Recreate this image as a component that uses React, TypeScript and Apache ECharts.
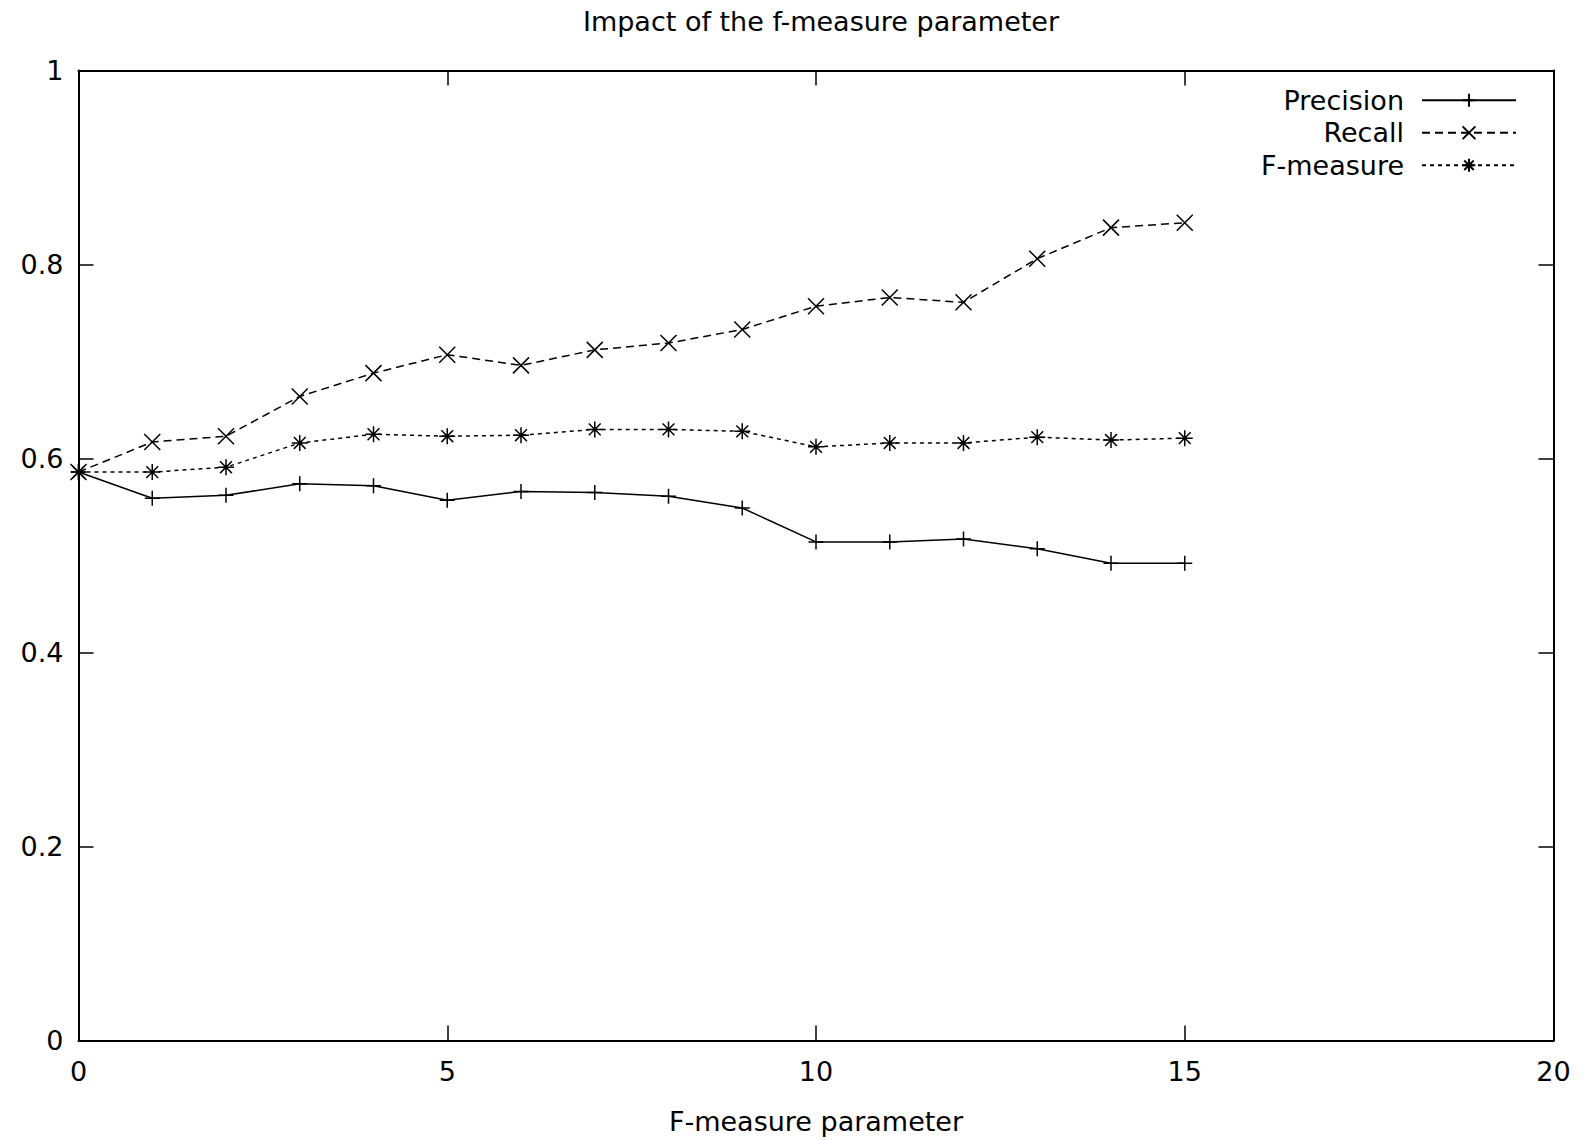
import React, { useEffect, useRef } from "react";
import * as echarts from "echarts";

const xValues = [0, 1, 2, 3, 4, 5, 6, 7, 8, 9, 10, 11, 12, 13, 14, 15];
const precision = [0.586, 0.559, 0.562, 0.574, 0.572, 0.557, 0.566, 0.565, 0.561, 0.549, 0.514, 0.514, 0.517, 0.507, 0.492, 0.492];
const recall = [0.586, 0.617, 0.623, 0.664, 0.688, 0.707, 0.696, 0.712, 0.719, 0.733, 0.757, 0.766, 0.761, 0.806, 0.838, 0.843];
const fmeasure = [0.586, 0.586, 0.591, 0.616, 0.625, 0.623, 0.624, 0.630, 0.630, 0.628, 0.612, 0.616, 0.616, 0.622, 0.619, 0.621];
const seriesNames = ["Precision", "Recall", "F-measure"];
const titleText = "Impact of the f-measure parameter";
const xAxisName = "F-measure parameter";

const FONT = "'DejaVu Sans', 'Liberation Sans', Arial, sans-serif";
const FS = 27;
const PLUS = "path://M5,0L5,10M0,5L10,5";
const CROSS = "path://M0,0L10,10M10,0L0,10";
const STAR = "path://M5,0L5,10M0,5L10,5M1.3,1.3L8.7,8.7M8.7,1.3L1.3,8.7";

function pairs(ys: number[]) {
  return xValues.map((x, i) => [x, ys[i]]);
}

export default function App() {
  const ref = useRef<HTMLDivElement>(null);
  useEffect(() => {
    const chart = echarts.init(ref.current!, null, { renderer: "svg" });
    const axisCommon = {
      axisLine: { show: true, onZero: false, lineStyle: { color: "#000", width: 2 } },
      axisTick: { show: true, inside: true, length: 15, lineStyle: { color: "#000", width: 1.5 } },
      splitLine: { show: false },
    };
    const mk = (name: string, ys: number[], symbol: string, size: number, dash: any) => ({
      name,
      type: "line",
      data: pairs(ys),
      symbol,
      symbolSize: size,
      showSymbol: true,
      lineStyle: { color: "#000", width: 1.5, type: dash },
      itemStyle: { color: "none", borderColor: "#000", borderWidth: 1.5 },
      emphasis: { disabled: true },
    });
    chart.setOption({
      animation: false,
      backgroundColor: "#fff",
      textStyle: { fontFamily: FONT },
      title: {
        text: titleText,
        left: 816,
        top: 3,
        textAlign: "center",
        textStyle: { fontFamily: FONT, fontSize: FS, fontWeight: "normal", color: "#000" },
      },
      grid: { left: 78.5, right: 33.5, top: 70.5, bottom: 99.5, containLabel: false },
      legend: {
        orient: "vertical",
        right: 65,
        top: 79,
        align: "right",
        itemWidth: 94,
        itemHeight: 16,
        itemGap: 0,
        data: seriesNames,
        textStyle: { fontFamily: FONT, fontSize: FS, color: "#000", lineHeight: 32.5, padding: [0, 13, 0, 0] },
      },
      xAxis: [
        {
          ...axisCommon,
          type: "value",
          position: "bottom",
          min: 0,
          max: 20,
          interval: 5,
          name: xAxisName,
          nameLocation: "middle",
          nameGap: 67,
          nameTextStyle: { fontFamily: FONT, fontSize: FS, color: "#000" },
          axisLabel: { fontFamily: FONT, fontSize: FS, color: "#000", margin: 17 },
        },
        {
          ...axisCommon,
          type: "value",
          position: "top",
          min: 0,
          max: 20,
          interval: 5,
          axisLabel: { show: false },
        },
      ],
      yAxis: [
        {
          ...axisCommon,
          type: "value",
          position: "left",
          min: 0,
          max: 1,
          interval: 0.2,
          axisLabel: { fontFamily: FONT, fontSize: FS, color: "#000", margin: 15 },
        },
        {
          ...axisCommon,
          type: "value",
          position: "right",
          min: 0,
          max: 1,
          interval: 0.2,
          axisLabel: { show: false },
        },
      ],
      series: [
        mk(seriesNames[0], precision, PLUS, 15, "solid"),
        mk(seriesNames[1], recall, CROSS, 16, [8, 5]),
        mk(seriesNames[2], fmeasure, STAR, 16, [4, 4]),
      ],
    });
    return () => chart.dispose();
  }, []);
  return (
    <div
      ref={ref}
      style={{ position: "absolute", left: 0, top: 0, width: 1587, height: 1140, background: "#fff" }}
    />
  );
}
